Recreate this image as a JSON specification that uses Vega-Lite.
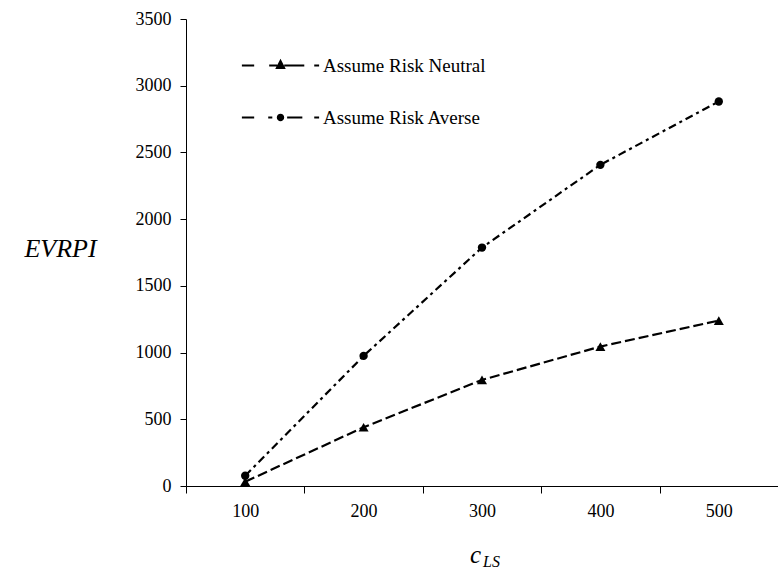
{
  "$schema": "https://vega.github.io/schema/vega-lite/v6.json",
  "width": 592,
  "height": 467,
  "autosize": "none",
  "padding": {"left": 186, "top": 19, "right": 0, "bottom": 85},
  "background": "white",
  "title": {"text": "LS", "orient": "bottom", "anchor": "start", "frame": "group", "align": "left", "baseline": "alphabetic", "font": "Liberation Serif", "fontStyle": "italic", "fontWeight": "normal", "fontSize": 16, "color": "black", "dx": 297, "offset": 0},
  "config": {
    "view": {"stroke": null},
    "font": "Liberation Serif",
    "axis": {"grid": false, "domainColor": "black", "tickColor": "black", "labelColor": "black", "titleColor": "black", "labelFont": "Liberation Serif", "labelFontSize": 18, "titleFont": "Liberation Serif", "titleFontStyle": "italic", "titleFontWeight": "normal", "domainWidth": 1, "tickWidth": 1}
  },
  "data": {"values": [
    {"series": "Assume Risk Neutral", "cLS": 100, "EVRPI": 32},
    {"series": "Assume Risk Neutral", "cLS": 200, "EVRPI": 440},
    {"series": "Assume Risk Neutral", "cLS": 300, "EVRPI": 795},
    {"series": "Assume Risk Neutral", "cLS": 400, "EVRPI": 1045},
    {"series": "Assume Risk Neutral", "cLS": 500, "EVRPI": 1240},
    {"series": "Assume Risk Averse", "cLS": 100, "EVRPI": 77},
    {"series": "Assume Risk Averse", "cLS": 200, "EVRPI": 975},
    {"series": "Assume Risk Averse", "cLS": 300, "EVRPI": 1787},
    {"series": "Assume Risk Averse", "cLS": 400, "EVRPI": 2407},
    {"series": "Assume Risk Averse", "cLS": 500, "EVRPI": 2882}
  ]},
  "encoding": {
    "x": {"field": "cLS", "type": "ordinal", "sort": null,
      "scale": {"type": "band", "paddingInner": 0, "paddingOuter": 0},
      "axis": {"title": "c", "titleFontSize": 25, "titleX": 289, "titleY": 76, "titleAlign": "center", "titleBaseline": "alphabetic", "labelAngle": 0, "tickSize": 7, "tickBand": "extent", "labelPadding": 9}},
    "y": {"field": "EVRPI", "type": "quantitative",
      "scale": {"domain": [0, 3500], "nice": false},
      "axis": {"title": "EVRPI", "titleFontSize": 26, "titleAngle": 0, "titleX": -126, "titleY": 229, "titleAlign": "center", "titleBaseline": "middle", "values": [0, 500, 1000, 1500, 2000, 2500, 3000, 3500], "format": "d", "tickSize": 6, "labelPadding": 9}}
  },
  "layer": [
    {
      "mark": {"type": "line", "color": "black", "strokeWidth": 2.2},
      "encoding": {
        "strokeDash": {"field": "series", "type": "nominal",
          "scale": {"domain": ["Assume Risk Neutral", "Assume Risk Averse"], "range": [[10, 4], [8, 4, 3, 4]]},
          "legend": null}
      }
    },
    {
      "mark": {"type": "point", "filled": true, "color": "black", "opacity": 1},
      "encoding": {
        "shape": {"field": "series", "type": "nominal",
          "scale": {"domain": ["Assume Risk Neutral", "Assume Risk Averse"], "range": ["triangle-up", "circle"]},
          "legend": null},
        "size": {"field": "series", "type": "nominal",
          "scale": {"domain": ["Assume Risk Neutral", "Assume Risk Averse"], "range": [100, 70]},
          "legend": null}
      }
    },
    {
      "mark": {"type": "point", "filled": true, "fill": "black", "opacity": 0, "size": 1521},
      "encoding": {
        "shape": {"field": "series", "type": "nominal",
          "scale": {"domain": ["Assume Risk Neutral", "Assume Risk Averse"],
            "range": [
              "M-1.98,-0.05H-1.35V0.05H-1.98ZM-0.58,-0.05H-0.17V0.05H-0.58ZM0.19,-0.05H1.22V0.05H0.19ZM1.73,-0.05H1.98V0.05H1.73ZM0,-0.34L0.27,0.18L-0.27,0.18Z",
              "M-1.98,-0.05H-1.35V0.05H-1.98ZM-0.63,-0.05H-0.42V0.05H-0.63ZM0.34,-0.05H1.12V0.05H0.34ZM1.73,-0.05H1.98V0.05H1.73ZM-0.19,0A0.19,0.19 0 1,0 0.19,0A0.19,0.19 0 1,0 -0.19,0Z"
            ]},
          "legend": {"orient": "none", "legendX": 75, "legendY": 27, "title": null, "padding": 0,
            "labelFont": "Liberation Serif", "labelFontSize": 19, "labelColor": "black", "labelOffset": 23, "labelLimit": 400,
            "rowPadding": 22, "symbolSize": 1521, "symbolOpacity": 1, "symbolStrokeWidth": 0,
            "symbolFillColor": "black"}}
      }
    }
  ],
  "resolve": {"scale": {"shape": "independent", "size": "independent"}}
}
